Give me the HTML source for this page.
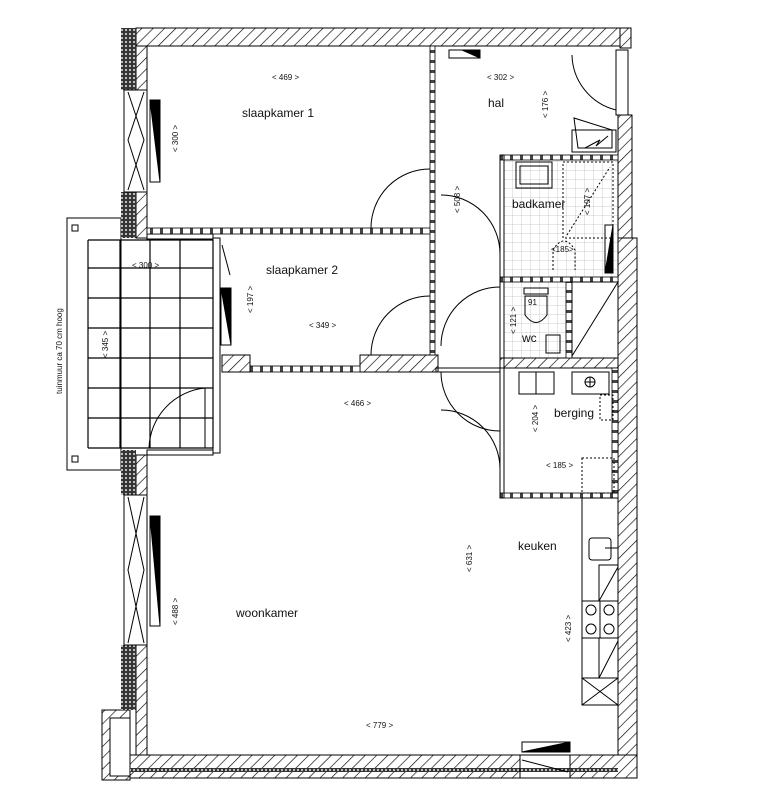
<!DOCTYPE html>
<html><head><meta charset="utf-8"><style>
html,body{margin:0;padding:0;background:#fff;width:768px;height:811px;overflow:hidden}
svg{display:block}
text{font-family:"Liberation Sans",sans-serif;fill:#111}
.d{font-size:8px}
.r{font-size:12px}
</style></head><body>
<svg width="768" height="811" viewBox="0 0 768 811" xmlns="http://www.w3.org/2000/svg">
<defs>
<pattern id="h" width="8" height="8" patternUnits="userSpaceOnUse" patternTransform="rotate(45)">
<rect width="8" height="8" fill="#fff"/><line x1="0" y1="0" x2="0" y2="8" stroke="#000" stroke-width="1.3"/></pattern>
<pattern id="b" width="4" height="4" patternUnits="userSpaceOnUse">
<rect width="4" height="4" fill="#333"/><circle cx="2" cy="2" r="1.1" fill="#ccc"/></pattern>
<pattern id="t" width="9" height="9" patternUnits="userSpaceOnUse">
<rect width="9" height="9" fill="#fff"/><path d="M9 0V9H0" fill="none" stroke="#ccc" stroke-width="1"/></pattern>
<pattern id="dw" width="10" height="6" patternUnits="userSpaceOnUse">
<rect width="10" height="6" fill="#fff"/><rect x="0" y="0" width="3" height="6" fill="#444"/></pattern>
<pattern id="dv" width="6" height="10" patternUnits="userSpaceOnUse">
<rect width="6" height="10" fill="#fff"/><rect x="0" y="0" width="6" height="3" fill="#444"/></pattern>
</defs>
<g stroke="#000" stroke-width="1" fill="none">
<rect x="67" y="218" width="54" height="252"/>
<rect x="72" y="225" width="6" height="6"/><rect x="72" y="456" width="6" height="6"/>
<g stroke-width="1.2">
<path d="M88 240H213M88 268H213M88 298H213M88 328H213M88 358H213M88 388H213M88 418H213M88 448H213"/>
<path d="M88 240V448M120 240V448M150 240V448M180 240V448M213 240V448"/>
</g>
<path d="M149 448A62 62 0 0 1 205 388" /><line x1="205" y1="388" x2="205" y2="448"/>
</g>
<rect x="504" y="155" width="114" height="122" fill="url(#t)"/>
<rect x="504" y="282" width="62" height="76" fill="url(#t)"/>
<g stroke="#000" stroke-width="1">
<rect x="136" y="28" width="484" height="18" fill="url(#h)"/>
<rect x="620" y="28" width="11" height="20" fill="url(#h)"/>
<rect x="618" y="115" width="14" height="125" fill="url(#h)"/>
<rect x="618" y="238" width="19" height="540" fill="url(#h)"/>
<rect x="130" y="755" width="390" height="23" fill="url(#h)"/>
<rect x="570" y="755" width="67" height="23" fill="url(#h)"/>
<rect x="102" y="710" width="28" height="70" fill="url(#h)"/>
<rect x="110" y="718" width="20" height="58" fill="#fff"/>
<rect x="136" y="46" width="11" height="44" fill="url(#h)"/>
<rect x="136" y="192" width="11" height="46" fill="url(#h)"/>
<rect x="136" y="645" width="11" height="110" fill="url(#h)"/>
<rect x="136" y="455" width="11" height="40" fill="url(#h)"/>
<rect x="222" y="355" width="28" height="17" fill="url(#h)"/>
<rect x="360" y="355" width="78" height="17" fill="url(#h)"/>
<rect x="500" y="358" width="118" height="10" fill="url(#h)"/>
</g>
<rect x="121" y="28" width="15" height="62" fill="url(#b)"/>
<rect x="121" y="192" width="15" height="46" fill="url(#b)"/>
<rect x="121" y="450" width="15" height="45" fill="url(#b)"/>
<rect x="121" y="645" width="15" height="65" fill="url(#b)"/>
<rect x="130" y="768" width="488" height="4" fill="url(#b)"/>
<g stroke="#000" fill="none" stroke-width="1">
<rect x="124" y="90" width="23" height="102"/><path d="M128 92L144 140L128 190M144 92L128 140L144 190"/>
<rect x="124" y="495" width="23" height="150"/><path d="M128 497L144 570L128 643M144 497L128 570L144 643"/>
<rect x="213" y="238" width="7" height="215"/>
<rect x="147" y="234" width="66" height="5"/><rect x="147" y="450" width="66" height="5"/>
<path d="M222 245L230 275"/>
<rect x="520" y="755" width="50" height="23"/><path d="M522 760L568 772"/>
<rect x="616" y="50" width="12" height="65"/>
</g>
<g stroke="#000" fill="#fff"><rect x="150" y="100" width="10" height="82"/><path d="M150 100H160V182Z" fill="#000"/>
<rect x="221" y="288" width="10" height="57"/><path d="M221 288H231V345Z" fill="#000"/>
<rect x="150" y="516" width="10" height="110"/><path d="M150 516H160V626Z" fill="#000"/>
<rect x="522" y="742" width="48" height="10"/><path d="M522 752L570 742V752Z" fill="#000"/>
<rect x="449" y="50" width="31" height="8"/><path d="M462 50H480V58Z" fill="#000"/>
<rect x="605" y="225" width="8" height="48"/><path d="M605 273L613 225V273Z" fill="#000"/></g>
<rect x="147" y="228" width="285" height="6" fill="url(#dw)" stroke="#000" stroke-width="0.8"/>
<rect x="250" y="366" width="110" height="6" fill="url(#dw)" stroke="#000" stroke-width="0.8"/>
<rect x="430" y="46" width="5" height="309" fill="url(#dv)" stroke="#000" stroke-width="0.8"/>
<rect x="500" y="155" width="118" height="5" fill="url(#dw)" stroke="#000" stroke-width="0.8"/>
<rect x="500" y="277" width="118" height="5" fill="url(#dw)" stroke="#000" stroke-width="0.8"/>
<rect x="500" y="493" width="118" height="5" fill="url(#dw)" stroke="#000" stroke-width="0.8"/>
<rect x="566" y="282" width="6" height="76" fill="url(#dv)" stroke="#000" stroke-width="0.8"/>
<rect x="612" y="368" width="6" height="125" fill="url(#dv)" stroke="#000" stroke-width="0.8"/>
<g stroke="#000" fill="none" stroke-width="1">
<rect x="500" y="155" width="4" height="343"/>
<rect x="436" y="368" width="64" height="4"/>
<path d="M371 228A59 59 0 0 1 430 169"/>
<path d="M371 355A59 59 0 0 1 430 296"/>
<path d="M441 195A59 59 0 0 1 500 254"/>
<path d="M500 287A59 59 0 0 0 441 346"/>
<path d="M441 372A59 59 0 0 0 500 431"/>
<path d="M441 410A59 59 0 0 1 500 469"/>
<path d="M572 55A58 58 0 0 0 616 110"/>
<path d="M574 118L578 148H612V130Z"/>
<rect x="572" y="130" width="44" height="22"/><path d="M585 148L600 140L596 146L608 136"/>
<rect x="516" y="162" width="36" height="26"/><rect x="520" y="166" width="28" height="18"/>
<rect x="563" y="162" width="50" height="76" stroke-dasharray="2 2"/><path d="M567 235L610 167" stroke-dasharray="2 2"/>
<path d="M553 270V250Q564 232 575 250V270" stroke-dasharray="2 2"/>
<rect x="524" y="288" width="24" height="6"/><path d="M525 296V315Q536 330 547 315V296Z"/>
<rect x="546" y="335" width="14" height="18"/>
<path d="M572 282L618 282L572 356Z"/>
<rect x="519" y="372" width="35" height="22"/><line x1="536" y1="372" x2="536" y2="394"/>
<rect x="572" y="372" width="37" height="22"/><circle cx="590" cy="382" r="5"/><path d="M585 382H595M590 377V387"/>
<rect x="600" y="395" width="13" height="25" stroke-dasharray="2 2"/>
<rect x="582" y="458" width="32" height="35" stroke-dasharray="2 2"/>
<rect x="582" y="498" width="36" height="207"/>
<rect x="589" y="538" width="22" height="22" rx="3"/><line x1="605" y1="548" x2="618" y2="548"/>
<rect x="599" y="565" width="19" height="36"/><path d="M599 601L618 567"/>
<rect x="582" y="601" width="36" height="37"/>
<line x1="600" y1="601" x2="600" y2="638"/>
<circle cx="591" cy="610" r="5"/><circle cx="591" cy="629" r="5"/><circle cx="609" cy="610" r="5"/><circle cx="609" cy="629" r="5"/>
<rect x="599" y="638" width="19" height="40"/><path d="M599 678L618 641"/>
<rect x="582" y="678" width="36" height="27"/><path d="M582 678L618 705M618 678L582 705"/>
</g>
<text class="r" x="242" y="117">slaapkamer 1</text>
<text class="r" x="266" y="274">slaapkamer 2</text>
<text class="r" x="488" y="107">hal</text>
<text class="r" x="512" y="208">badkamer</text>
<text class="r" x="522" y="342">wc</text>
<text class="r" x="554" y="417">berging</text>
<text class="r" x="518" y="550">keuken</text>
<text class="r" x="236" y="617">woonkamer</text>
<text class="d" x="272" y="80">&lt; 469 &gt;</text>
<text class="d" x="487" y="80">&lt; 302 &gt;</text>
<text class="d" x="132" y="268">&lt; 300 &gt;</text>
<text class="d" x="309" y="328">&lt; 349 &gt;</text>
<text class="d" x="344" y="406">&lt; 466 &gt;</text>
<text class="d" x="546" y="468">&lt; 185 &gt;</text>
<text class="d" x="366" y="728">&lt; 779 &gt;</text>
<text class="d" x="551" y="252">&lt;185&gt;</text>
<text class="d" transform="translate(178,152) rotate(-90)">&lt; 300 &gt;</text>
<text class="d" transform="translate(253,313) rotate(-90)">&lt; 197 &gt;</text>
<text class="d" transform="translate(108,358) rotate(-90)">&lt; 345 &gt;</text>
<text class="d" transform="translate(178,625) rotate(-90)">&lt; 488 &gt;</text>
<text class="d" transform="translate(548,118) rotate(-90)">&lt; 176 &gt;</text>
<text class="d" transform="translate(460,213) rotate(-90)">&lt; 508 &gt;</text>
<text class="d" transform="translate(590,215) rotate(-90)">&lt; 197 &gt;</text>
<text class="d" transform="translate(516,334) rotate(-90)">&lt; 121 &gt;</text>
<text class="d" transform="translate(538,432) rotate(-90)">&lt; 204 &gt;</text>
<text class="d" transform="translate(472,572) rotate(-90)">&lt; 631 &gt;</text>
<text class="d" transform="translate(571,642) rotate(-90)">&lt; 423 &gt;</text>
<text class="d" transform="translate(62,394) rotate(-90)">tuinmuur ca 70 cm hoog</text>
<text class="d" x="528" y="305">91</text>
</svg>
</body></html>
